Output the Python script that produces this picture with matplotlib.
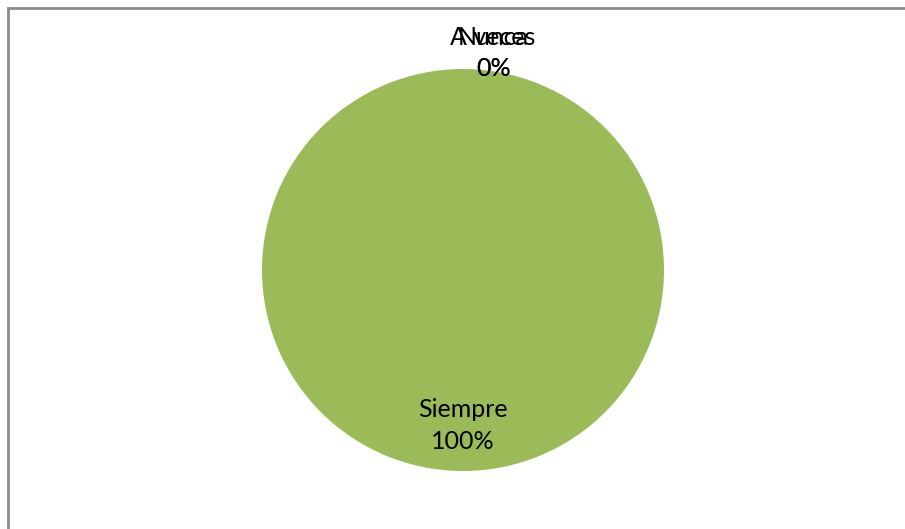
import numpy as np
import matplotlib.pyplot as plt
from matplotlib.patches import Rectangle

# Survey answers and their share of responses
categories = ['Siempre', 'A veces', 'Nunca']
values = [100, 0, 0]
colors = ['#9BBB59', '#C0504D', '#4F81BD']

plt.rcParams['font.family'] = ['Lato', 'DejaVu Sans']

W, H = 905, 529
fig = plt.figure(figsize=(W / 100, H / 100), dpi=100)

# Chart area frame (runs off the right and bottom edges)
fig.patches.append(Rectangle((7.5 / W, -0.05), 1.1, 1 - 7.5 / H + 0.05,
                             transform=fig.transFigure, fill=False,
                             edgecolor='#8c8c8c', linewidth=2))

r_px = 201
cx, cy = 463, H - 270
ax = fig.add_axes([(cx - r_px) / W, (cy - r_px) / H, 2 * r_px / W, 2 * r_px / H])

wedges, _ = ax.pie(values, colors=colors, startangle=90, counterclock=False,
                   radius=1, wedgeprops=dict(linewidth=0))
ax.set_xlim(-1, 1)
ax.set_ylim(-1, 1)
ax.set_aspect('equal')
ax.axis('off')

total = sum(values)
for w, name, v in zip(wedges, categories, values):
    mid = np.deg2rad((w.theta1 + w.theta2) / 2)
    pct = f'{v / total * 100:.0f}%'
    if v > 0:
        # label inside the slice
        x, y = 0.775 * np.cos(mid), 0.775 * np.sin(mid)
    else:
        # empty slices get an outside label above the pie
        x, y = 1.0 * np.cos(mid) + 0.15, 1.08 * np.sin(mid)
    ax.text(x, y, f'{name}\n{pct}', ha='center', va='center',
            fontsize=18, linespacing=1.45, color='black')

fig.savefig('out.png', dpi=100)
